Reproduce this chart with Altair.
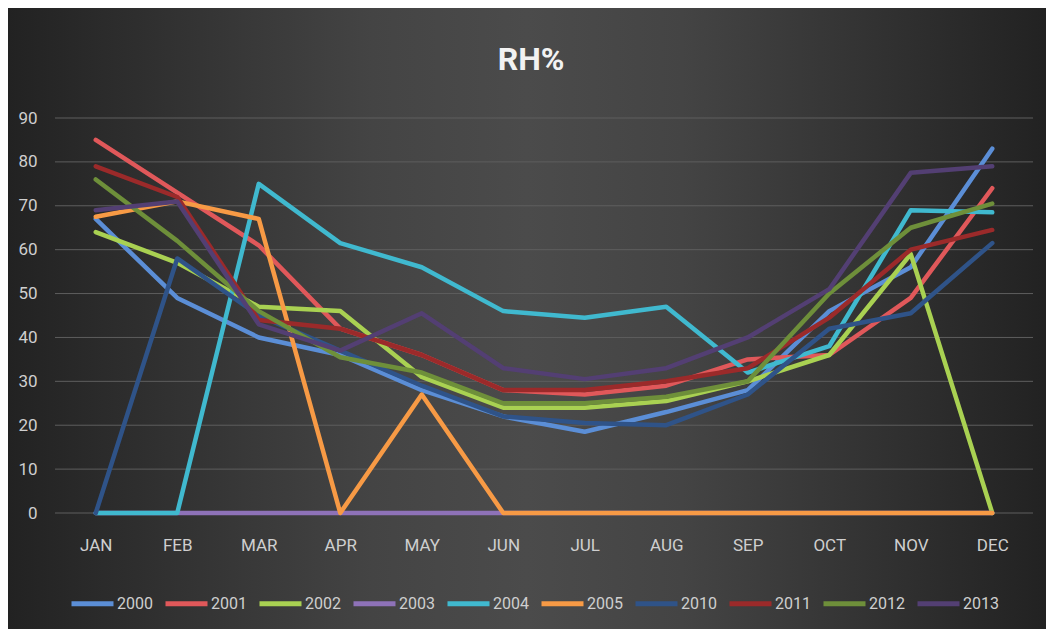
import altair as alt
import pandas as pd

months = ["JAN", "FEB", "MAR", "APR", "MAY", "JUN", "JUL", "AUG", "SEP", "OCT", "NOV", "DEC"]
years = ["2000", "2001", "2002", "2003", "2004", "2005", "2010", "2011", "2012", "2013"]

rh_2000 = [67, 49, 40, 36, 28, 22, 18.5, 23, 28, 46, 56, 83]
rh_2001 = [85, 73, 61, 42, 36, 28, 27, 29, 35, 36, 49, 74]
rh_2002 = [64, 57, 47, 46, 31, 24, 24, 25.5, 30, 36, 59, 0]
rh_2003 = [0, 0, 0, 0, 0, 0, 0, 0, 0, 0, 0, 0]
rh_2004 = [0, 0, 75, 61.5, 56, 46, 44.5, 47, 32, 38, 69, 68.5]
rh_2005 = [67.5, 71, 67, 0, 27, 0, 0, 0, 0, 0, 0, 0]
rh_2010 = [0, 58, 45, 37, 29, 22, 20.5, 20, 27, 42, 45.5, 61.5]
rh_2011 = [79, 72, 44, 42, 36, 28, 28, 30, 33, 44.5, 60, 64.5]
rh_2012 = [76, 62, 46, 35.5, 32, 25, 25, 26.5, 30, 50, 65, 70.5]
rh_2013 = [69, 71, 43, 37, 45.5, 33, 30.5, 33, 40, 51, 77.5, 79]

y_ticks = [0, 10, 20, 30, 40, 50, 60, 70, 80, 90]
title_text = ["RH%"]

series = [rh_2000, rh_2001, rh_2002, rh_2003, rh_2004, rh_2005, rh_2010, rh_2011, rh_2012, rh_2013]
colors = ["#5B8ED6", "#E0585A", "#A9D152", "#8E72B8", "#40B9CF", "#F79A45",
          "#2F5388", "#9B2A2A", "#6E8F3A", "#533F73"]

rows = []
for yr, vals in zip(years, series):
    for m, v in zip(months, vals):
        rows.append({"month": m, "year": yr, "rh": v})
df = pd.DataFrame(rows)

FONT = "Roboto"
LABEL = "#cfcfcf"
W, H = 978, 395
PAD = {"left": 47, "top": 110, "right": 13, "bottom": 116}

y_axis = alt.Axis(title=None, values=y_ticks, domain=False, ticks=False, grid=False,
                  labelPadding=18, labelFontSize=17, labelColor=LABEL, labelFont=FONT,
                  zindex=1)
y_scale = alt.Scale(domain=[0, 90], nice=False)

bg = alt.Chart(pd.DataFrame({"a": [0]})).mark_rect(
    fill=alt.Gradient(
        gradient="linear",
        stops=[
            alt.GradientStop(color="#222222", offset=0),
            alt.GradientStop(color="#444444", offset=0.35),
            alt.GradientStop(color="#4b4b4b", offset=0.5),
            alt.GradientStop(color="#444444", offset=0.65),
            alt.GradientStop(color="#222222", offset=1),
        ],
        x1=0, x2=1, y1=0, y2=0,
    )
).encode(
    x=alt.value(-PAD["left"]), x2=alt.value(W + PAD["right"]),
    y=alt.value(-PAD["top"]), y2=alt.value(H + PAD["bottom"]),
)

title = alt.Chart(pd.DataFrame({"t": title_text})).mark_text(
    font=FONT, fontSize=32, fontWeight="bold", color="#f2f2f2",
    align="center", baseline="middle"
).encode(text="t:N", x=alt.value(476), y=alt.value(-58))

grid = alt.Chart(pd.DataFrame({"v": y_ticks})).mark_rule(
    color="#5e5e5e", strokeWidth=1
).encode(
    y=alt.Y("v:Q", axis=y_axis, scale=y_scale)
)

lines = alt.Chart(df).mark_line(strokeWidth=4.5, strokeJoin="round", strokeCap="round").encode(
    x=alt.X("month:N", sort=months, scale=alt.Scale(padding=0.5),
            axis=alt.Axis(title=None, domain=False, ticks=False, grid=False, labelAngle=0,
                          labelPadding=24, labelFontSize=17, labelColor=LABEL, labelFont=FONT,
                          zindex=1)),
    y=alt.Y("rh:Q", scale=y_scale, axis=y_axis),
    color=alt.Color("year:N", sort=years,
                    scale=alt.Scale(domain=years, range=colors),
                    legend=alt.Legend(title=None, orient="none", direction="horizontal", columns=10,
                                      legendX=14, legendY=462, symbolType="stroke",
                                      symbolSize=1764, symbolStrokeWidth=5, labelOffset=1,
                                      columnPadding=2, labelFontSize=16, labelColor=LABEL,
                                      labelFont=FONT, zindex=1)),
    order=alt.Order("year:N"),
)

chart = alt.layer(bg, grid, lines, title).properties(
    width=W, height=H,
    padding=PAD,
    autosize=alt.AutoSizeParams(type="none"),
).configure(background="#3a3a3a").configure_view(stroke=None)

chart.save("out.html", embed_options={"renderer": "svg", "actions": False})
